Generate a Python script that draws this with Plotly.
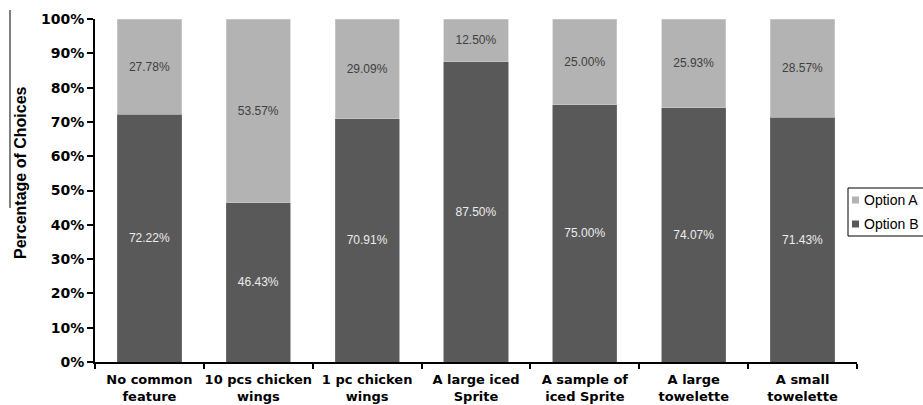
import plotly.graph_objects as go

categories = [
    "No common<br>feature",
    "10 pcs chicken<br>wings",
    "1 pc chicken<br>wings",
    "A large iced<br>Sprite",
    "A sample of<br>iced Sprite",
    "A large<br>towelette",
    "A small<br>towelette",
]
option_a = [27.78, 53.57, 29.09, 12.50, 25.00, 25.93, 28.57]
option_b = [72.22, 46.43, 70.91, 87.50, 75.00, 74.07, 71.43]
y_ticks = list(range(0, 101, 10))
series_names = ["Option A", "Option B"]
y_title = "Percentage of Choices"

FONT = "Arial, Liberation Sans, sans-serif"
AXIS_FONT = "DejaVu Sans, Verdana, sans-serif"
COLOR_A = "#b3b3b3"
COLOR_B = "#595959"

W, H = 923, 405
L, R, T, B = 95, 66, 19, 43
PW, PH = W - L - R, H - T - B


def px_x(px):
    return (px - L) / PW


def px_y(py):
    return (H - B - py) / PH


fig = go.Figure()
fig.add_trace(go.Bar(
    name="Option B", x=categories, y=option_b,
    marker=dict(color=COLOR_B, line=dict(color="#7a7a7a", width=0.6)),
    text=[f"{v:.2f}%" for v in option_b], textposition="inside",
    insidetextanchor="middle", textangle=0,
    textfont=dict(family=FONT, size=12, color="#ececec"),
    width=0.59, showlegend=False,
))
fig.add_trace(go.Bar(
    name="Option A", x=categories, y=option_a,
    marker=dict(color=COLOR_A, line=dict(color="#cfcfcf", width=0.6)),
    text=[f"{v:.2f}%" for v in option_a], textposition="inside",
    insidetextanchor="middle", textangle=0,
    textfont=dict(family=FONT, size=12, color="#404040"),
    width=0.59, showlegend=False,
))

fig.update_layout(
    barmode="stack",
    width=W, height=H,
    margin=dict(l=L, r=R, t=T, b=B, autoexpand=False),
    plot_bgcolor="white", paper_bgcolor="white",
    uniformtext=dict(minsize=8, mode="show"),
    font=dict(family=FONT, color="black"),
    xaxis=dict(
        showline=True, linecolor="black", linewidth=2,
        ticks="outside", tickson="boundaries", ticklen=5, tickcolor="black",
        tickwidth=1.5, ticklabelstandoff=4, tickangle=0,
        tickfont=dict(family=AXIS_FONT, size=13, color="black", weight="bold"),
        showgrid=False,
    ),
    yaxis=dict(
        range=[0, 100], tickvals=y_ticks, ticktext=[f"{v}%" for v in y_ticks],
        showline=True, linecolor="black", linewidth=2,
        ticks="outside", ticklen=6, tickcolor="black", tickwidth=1.5,
        tickfont=dict(family=AXIS_FONT, size=14, color="black", weight="bold"),
        showgrid=False, zeroline=False,
    ),
    showlegend=False,
)

# vertical axis title
fig.add_annotation(text=f"<b>{y_title}</b>", xref="paper", yref="paper",
                   x=px_x(20), y=px_y(173), textangle=-90,
                   xanchor="center", yanchor="middle", showarrow=False,
                   font=dict(family=FONT, size=16, color="black"))

# legend box, drawn to sit partly past the right edge
box_l, box_t, box_b = 848, 188, 236
fig.add_shape(type="rect", xref="paper", yref="paper",
              x0=px_x(box_l), x1=px_x(W + 20), y0=px_y(box_t), y1=px_y(box_b),
              line=dict(color="black", width=1), fillcolor="white", layer="above")
for name, color, cy in zip(series_names, [COLOR_A, COLOR_B], [200, 224]):
    fig.add_shape(type="rect", xref="paper", yref="paper",
                  x0=px_x(box_l + 4), x1=px_x(box_l + 11),
                  y0=px_y(cy - 3.5), y1=px_y(cy + 3.5),
                  line=dict(width=0), fillcolor=color, layer="above")
    fig.add_annotation(text=name, xref="paper", yref="paper",
                       x=px_x(box_l + 14), y=px_y(cy), xanchor="left", yanchor="middle",
                       showarrow=False, font=dict(family=FONT, size=14, color="black"))

# thin rule beside the axis title
fig.add_shape(type="line", xref="paper", yref="paper",
              x0=px_x(10), x1=px_x(10), y0=px_y(10), y1=px_y(208),
              line=dict(color="black", width=1))

fig.write_html("out.html")
